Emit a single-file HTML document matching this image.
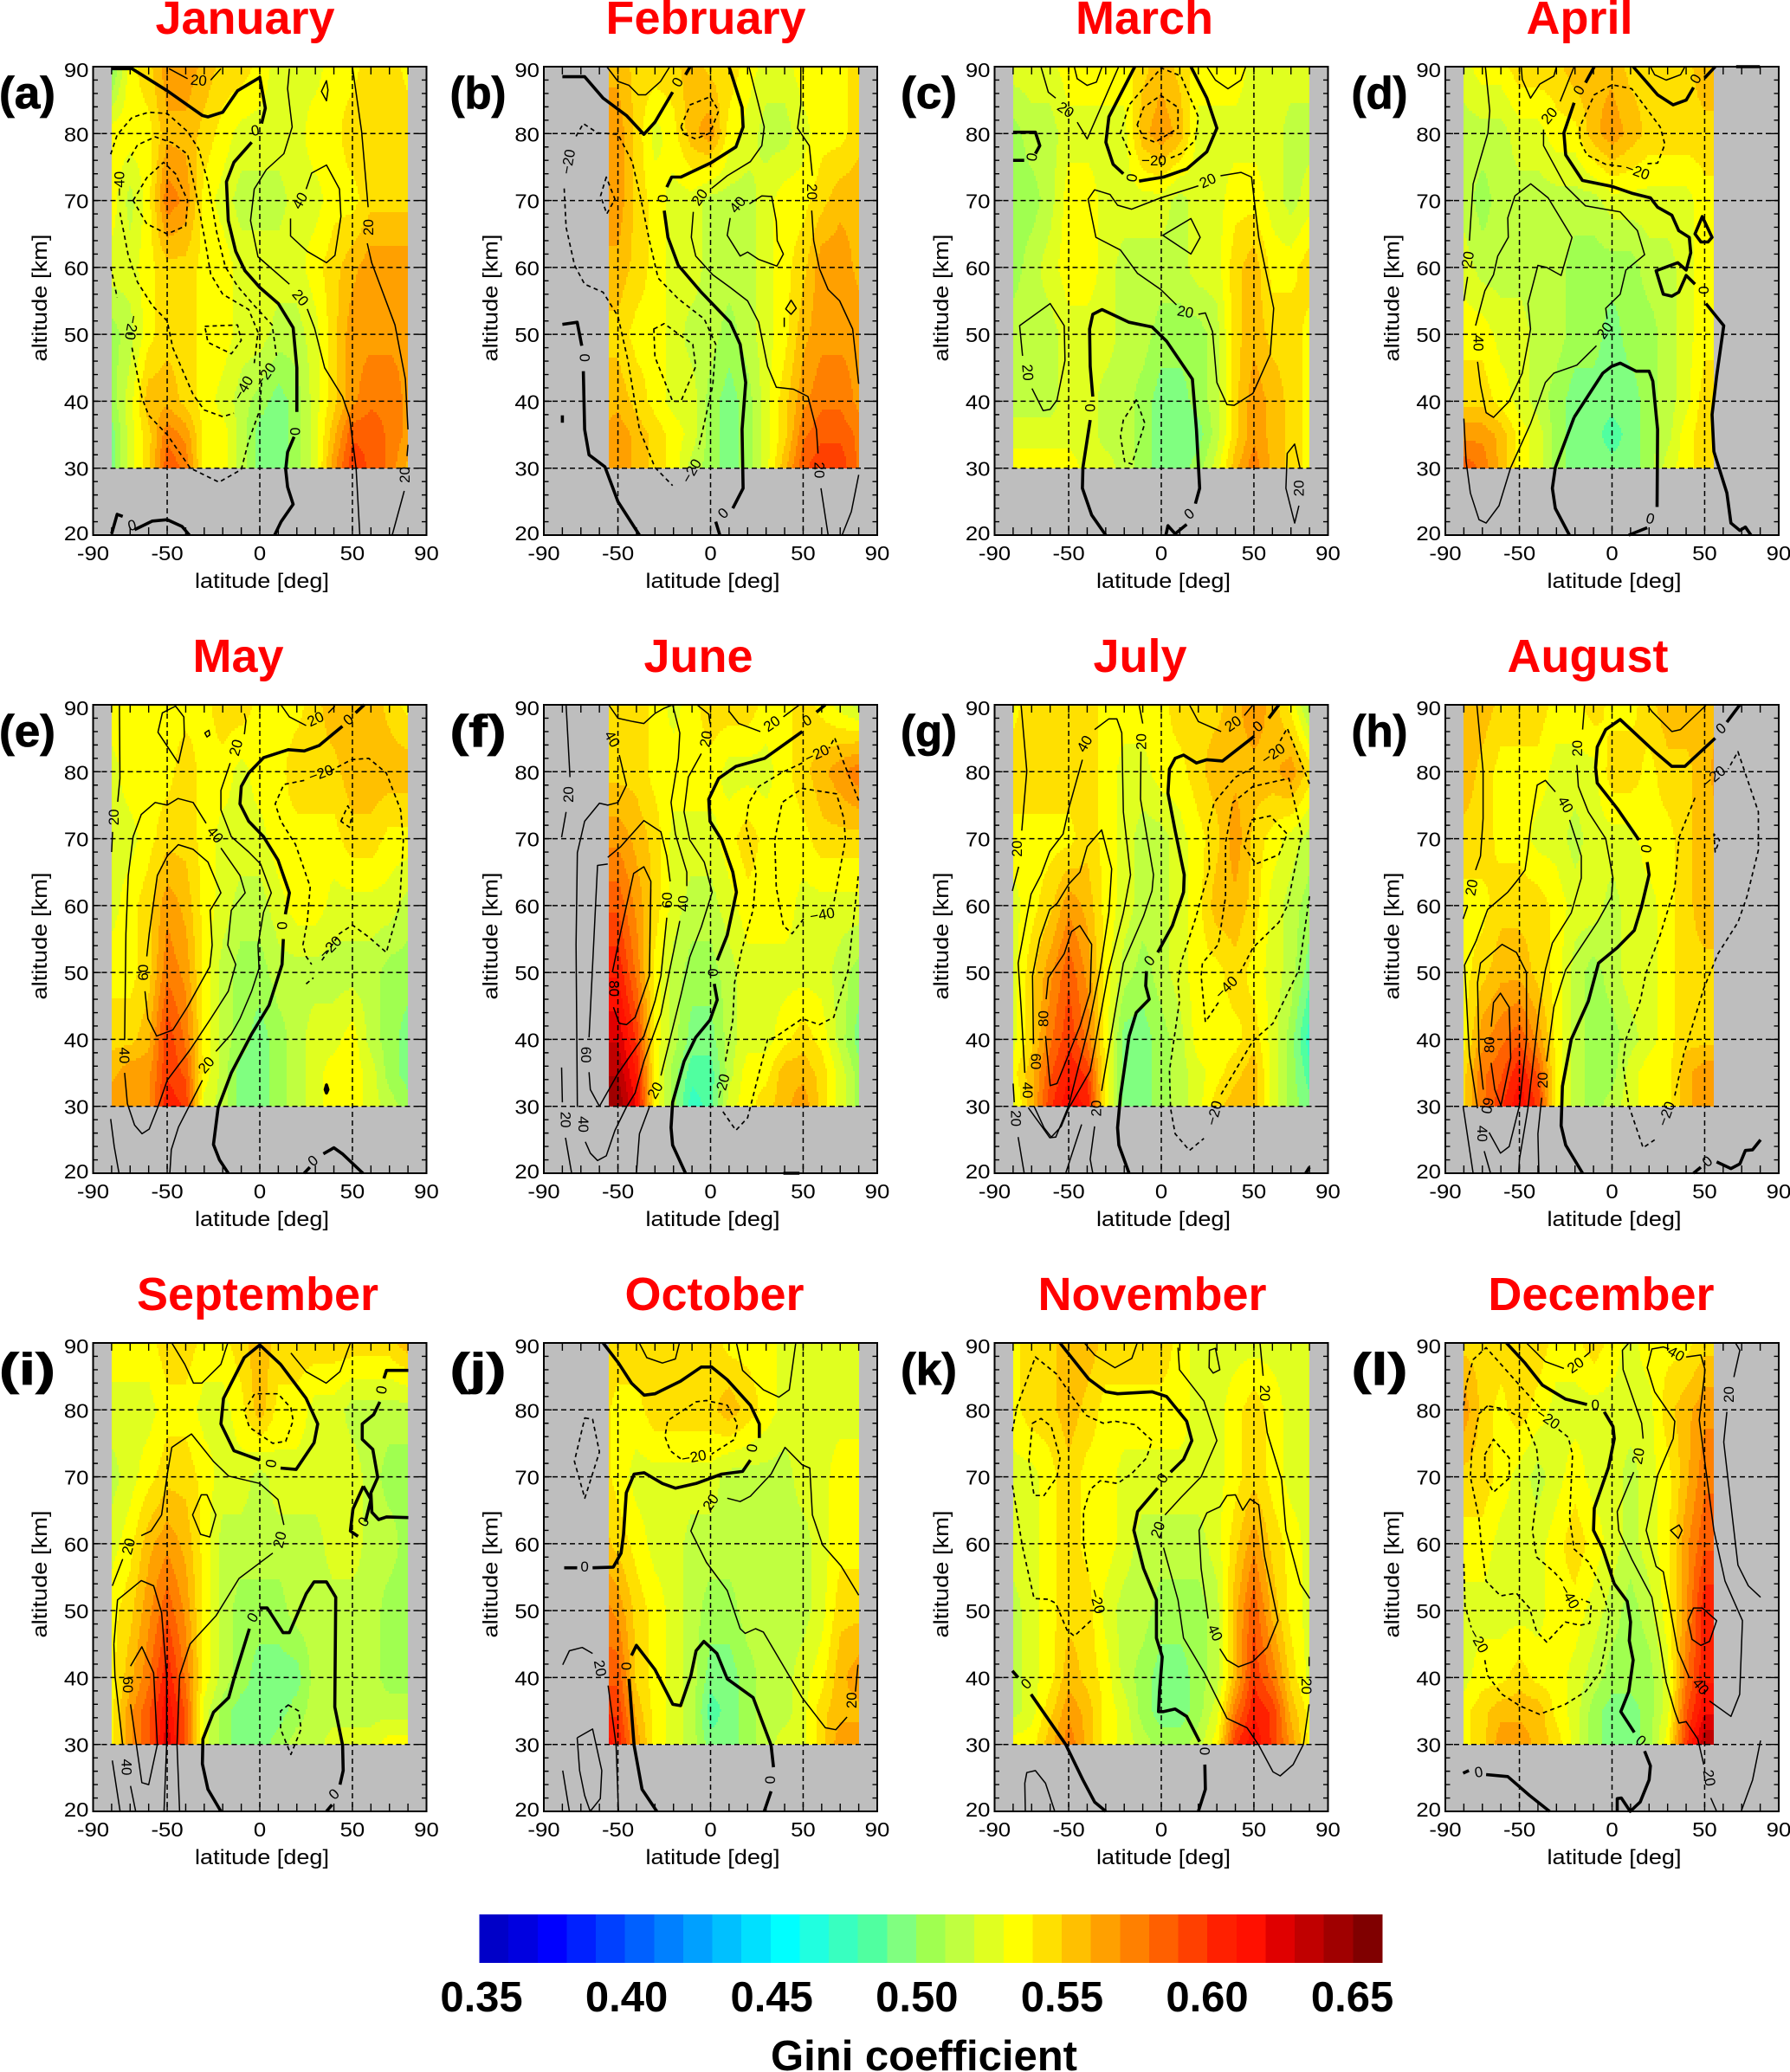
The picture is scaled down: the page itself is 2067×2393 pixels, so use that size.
<!DOCTYPE html>
<html lang="en">
<head>
<meta charset="utf-8">
<title>Monthly Gini coefficient by latitude and altitude</title>
<style>
html,body{margin:0;padding:0;background:#fff;}
#figure{display:block;font-family:"Liberation Sans",Arial,sans-serif;}
</style>
</head>
<body>
<svg id="figure" xmlns="http://www.w3.org/2000/svg" width="2067" height="2393" viewBox="0 0 2067 2393"></svg>
<script>
const monthNames=['January','February','March','April','May','June','July','August','September','October','November','December'];
const panelLetters=['(a)','(b)','(c)','(d)','(e)','(f)','(g)','(h)','(i)','(j)','(k)','(l)'];
const latGrid=[-80,-70,-60,-50,-40,-30,-20,-10,0,10,20,30,40,50,60,70,80];
const altGrid=[30,35,40,50,60,70,80,90];
const dataLatMin=[-80,-55,-80,-80,-80,-55,-80,-80,-80,-55,-80,-80];
const dataLatMax=[80,80,80,55,80,80,80,55,80,80,80,55];
const xTickLabels=[-90,-50,0,50,90];
const yTickLabels=[20,30,40,50,60,70,80,90];
const xGridLats=[-50,0,50];
const yGridAlts=[30,40,50,60,70,80];
const colorbarTicks=['0.35','0.40','0.45','0.50','0.55','0.60','0.65'];
const levelColors=['#0000c8','#0000e0','#0000ff','#0020ff','#0040ff','#0060ff','#0080ff','#00a0ff','#00c0ff','#00e0ff','#00ffff','#20ffe0','#38ffc0','#50ffa0','#80ff80','#a0ff50','#c0ff40','#e0ff20','#ffff00','#ffe000','#ffc000','#ffa000','#ff8000','#ff6000','#ff4000','#ff2000','#ff1000','#e00000','#c00000','#a00000','#800000'];

const giniJan=[
[.49,.52,.54,.58,.57,.53,.53,.51,.49,.49,.50,.52,.56,.59,.58,.57,.55],
[.49,.52,.54,.57,.56,.53,.53,.51,.49,.49,.50,.52,.55,.58,.58,.57,.56],
[.50,.52,.55,.55,.54,.53,.52,.51,.50,.49,.50,.52,.54,.56,.57,.57,.56],
[.50,.51,.53,.54,.54,.53,.53,.52,.52,.51,.51,.52,.54,.56,.56,.56,.56],
[.52,.52,.53,.54,.54,.53,.53,.52,.52,.52,.52,.53,.54,.55,.56,.56,.56],
[.53,.51,.53,.57,.56,.53,.52,.51,.51,.51,.52,.52,.53,.53,.54,.54,.54],
[.53,.53,.53,.55,.55,.54,.53,.52,.52,.52,.52,.53,.53,.54,.54,.54,.54],
[.49,.53,.54,.56,.56,.55,.54,.54,.53,.52,.52,.52,.53,.53,.54,.54,.53]];
const giniFeb=[
[null,null,.56,.56,.55,.54,.53,.51,.50,.49,.50,.52,.55,.58,.59,.59,.57],
[null,null,.55,.56,.55,.54,.53,.52,.50,.49,.50,.52,.54,.57,.58,.58,.57],
[null,null,.55,.55,.54,.53,.52,.52,.50,.49,.50,.52,.54,.56,.57,.57,.56],
[null,null,.54,.54,.53,.53,.52,.51,.51,.50,.51,.52,.53,.55,.56,.56,.56],
[null,null,.55,.55,.54,.53,.52,.52,.51,.51,.51,.52,.53,.54,.56,.56,.55],
[null,null,.56,.56,.54,.53,.52,.52,.51,.51,.51,.52,.53,.53,.54,.55,.55],
[null,null,.56,.56,.54,.52,.53,.55,.56,.53,.52,.51,.51,.52,.53,.53,.54],
[null,null,.55,.55,.54,.54,.54,.55,.54,.54,.53,.52,.52,.53,.53,.53,.54]];
const giniMar=[
[.53,.53,.53,.53,.52,.52,.51,.50,.49,.49,.50,.52,.55,.57,.55,.54,.53],
[.52,.52,.52,.52,.52,.51,.51,.50,.49,.49,.49,.51,.54,.56,.55,.54,.53],
[.51,.51,.51,.52,.52,.51,.51,.50,.49,.49,.50,.51,.54,.56,.55,.54,.53],
[.51,.51,.51,.52,.52,.52,.51,.51,.50,.50,.50,.51,.54,.55,.54,.54,.53],
[.50,.51,.52,.53,.53,.52,.51,.51,.51,.51,.52,.52,.54,.55,.53,.53,.54],
[.50,.50,.51,.53,.53,.52,.52,.52,.52,.51,.52,.52,.53,.53,.52,.51,.52],
[.50,.51,.51,.52,.52,.52,.52,.55,.56,.55,.52,.52,.52,.52,.52,.51,.51],
[.52,.52,.52,.53,.53,.53,.53,.54,.55,.54,.53,.53,.53,.52,.52,.52,.52]];
const giniApr=[
[.58,.57,.55,.53,.52,.50,.49,.49,.49,.49,.50,.52,.53,.54,.54,null,null],
[.56,.56,.55,.53,.52,.50,.49,.49,.48,.49,.50,.51,.53,.54,.54,null,null],
[.54,.54,.53,.52,.51,.50,.49,.49,.49,.49,.50,.51,.52,.54,.54,null,null],
[.53,.53,.52,.52,.51,.51,.50,.50,.49,.50,.50,.51,.52,.53,.53,null,null],
[.52,.51,.51,.51,.51,.51,.50,.50,.50,.50,.51,.51,.52,.53,.53,null,null],
[.51,.50,.51,.51,.51,.51,.51,.51,.52,.52,.52,.52,.52,.53,.53,null,null],
[.51,.51,.51,.52,.52,.53,.53,.55,.56,.55,.54,.54,.54,.54,.54,null,null],
[.52,.53,.53,.54,.54,.54,.55,.55,.55,.54,.54,.54,.54,.55,.55,null,null]];
const giniMay=[
[.56,.56,.56,.60,.59,.52,.51,.49,.49,.50,.51,.52,.53,.53,.52,.51,.50],
[.55,.56,.56,.59,.58,.53,.51,.49,.49,.50,.51,.52,.53,.53,.52,.50,.49],
[.54,.54,.55,.59,.57,.53,.51,.50,.49,.50,.51,.52,.52,.53,.51,.50,.49],
[.53,.53,.54,.57,.56,.53,.51,.50,.50,.51,.51,.51,.51,.51,.51,.50,.50],
[.52,.53,.54,.56,.55,.53,.52,.51,.51,.52,.53,.53,.52,.52,.52,.52,.51],
[.52,.52,.53,.54,.54,.53,.52,.52,.52,.53,.53,.53,.53,.54,.54,.53,.53],
[.52,.53,.53,.53,.54,.53,.53,.52,.53,.53,.54,.54,.54,.55,.55,.55,.55],
[.53,.53,.53,.53,.53,.53,.54,.54,.53,.53,.53,.54,.55,.55,.55,.54,.53]];
const giniJun=[
[null,null,.64,.64,.61,.53,.50,.47,.48,.52,.53,.54,.55,.56,.54,.52,.50],
[null,null,.63,.63,.60,.53,.50,.48,.48,.51,.53,.53,.55,.55,.54,.52,.50],
[null,null,.62,.62,.59,.53,.51,.49,.49,.51,.52,.52,.53,.54,.53,.51,.49],
[null,null,.60,.60,.57,.53,.51,.50,.50,.51,.52,.52,.52,.52,.52,.51,.50],
[null,null,.58,.58,.56,.54,.52,.51,.51,.52,.53,.53,.53,.52,.52,.52,.52],
[null,null,.56,.56,.55,.54,.52,.52,.52,.53,.54,.53,.53,.53,.54,.54,.54],
[null,null,.54,.54,.54,.53,.53,.53,.53,.52,.52,.52,.53,.54,.55,.56,.57],
[null,null,.54,.54,.54,.53,.52,.53,.54,.54,.54,.53,.53,.54,.53,.52,.51]];
const giniJul=[
[.52,.55,.59,.61,.60,.53,.49,.49,.50,.51,.52,.54,.55,.55,.52,.50,.49],
[.53,.55,.58,.60,.59,.53,.49,.49,.50,.51,.52,.53,.54,.55,.52,.50,.48],
[.52,.54,.57,.59,.57,.53,.49,.49,.50,.51,.53,.53,.53,.54,.52,.50,.47],
[.52,.54,.56,.58,.56,.53,.51,.50,.51,.52,.53,.53,.54,.53,.52,.51,.49],
[.52,.53,.54,.56,.55,.53,.52,.51,.51,.52,.53,.55,.55,.54,.52,.51,.50],
[.53,.53,.53,.53,.54,.53,.52,.51,.51,.52,.53,.54,.56,.54,.53,.52,.51],
[.54,.54,.54,.54,.54,.53,.52,.52,.53,.53,.54,.55,.55,.55,.55,.56,.54],
[.53,.54,.54,.54,.54,.53,.53,.53,.53,.54,.54,.54,.55,.56,.55,.53,.50]];
const giniAug=[
[.54,.57,.59,.61,.59,.53,.51,.50,.51,.52,.53,.53,.55,.56,.56,null,null],
[.54,.57,.58,.60,.58,.53,.51,.50,.50,.52,.53,.53,.55,.56,.56,null,null],
[.53,.56,.57,.58,.56,.53,.51,.50,.50,.51,.52,.53,.54,.54,.54,null,null],
[.53,.54,.55,.55,.54,.53,.51,.50,.51,.52,.52,.53,.54,.54,.54,null,null],
[.53,.53,.54,.54,.54,.53,.52,.52,.51,.52,.52,.53,.54,.55,.55,null,null],
[.54,.54,.53,.53,.52,.52,.51,.52,.52,.52,.53,.53,.54,.55,.55,null,null],
[.55,.54,.53,.53,.53,.52,.52,.52,.54,.54,.53,.54,.54,.55,.56,null,null],
[.55,.55,.54,.54,.54,.53,.53,.54,.53,.53,.54,.55,.55,.55,.55,null,null]];
const giniSep=[
[.53,.56,.58,.62,.58,.52,.50,.49,.49,.50,.51,.51,.52,.52,.52,.53,.53],
[.53,.56,.58,.61,.58,.52,.50,.49,.49,.49,.50,.51,.51,.51,.51,.51,.51],
[.53,.55,.57,.60,.57,.53,.51,.50,.49,.49,.49,.51,.51,.51,.51,.50,.50],
[.53,.54,.56,.58,.56,.53,.51,.50,.50,.50,.51,.51,.51,.51,.51,.50,.50],
[.52,.53,.55,.56,.55,.53,.51,.51,.51,.51,.51,.51,.52,.52,.51,.51,.50],
[.51,.52,.53,.54,.54,.53,.52,.52,.51,.52,.52,.52,.52,.52,.51,.50,.50],
[.52,.52,.52,.53,.53,.52,.52,.53,.55,.53,.53,.52,.52,.51,.51,.51,.51],
[.53,.53,.53,.54,.54,.53,.53,.54,.55,.54,.54,.54,.54,.54,.54,.54,.55]];
const giniOct=[
[null,null,.61,.60,.56,.53,.52,.51,.49,.49,.50,.51,.52,.52,.54,.56,.56],
[null,null,.59,.59,.55,.53,.52,.51,.48,.49,.50,.51,.51,.52,.54,.55,.55],
[null,null,.58,.58,.54,.53,.52,.51,.49,.49,.50,.51,.51,.52,.53,.55,.56],
[null,null,.57,.56,.54,.53,.52,.51,.50,.50,.51,.51,.51,.51,.52,.54,.54],
[null,null,.55,.54,.53,.52,.52,.51,.51,.51,.51,.51,.51,.51,.52,.53,.53],
[null,null,.54,.53,.52,.52,.52,.52,.52,.51,.51,.51,.51,.52,.52,.53,.53],
[null,null,.54,.53,.53,.54,.54,.54,.54,.55,.54,.53,.52,.52,.52,.52,.52],
[null,null,.54,.54,.54,.54,.54,.54,.54,.53,.53,.53,.52,.52,.52,.52,.52]];
const giniNov=[
[.53,.53,.55,.57,.55,.53,.52,.51,.50,.50,.51,.53,.59,.61,.59,.56,.53],
[.51,.52,.54,.56,.55,.53,.52,.50,.49,.49,.50,.52,.57,.60,.59,.55,.53],
[.51,.52,.53,.55,.54,.53,.51,.50,.49,.49,.50,.51,.55,.59,.57,.54,.52],
[.51,.52,.53,.54,.54,.52,.51,.51,.50,.50,.50,.51,.55,.58,.55,.53,.52],
[.52,.52,.53,.54,.53,.53,.52,.51,.51,.51,.51,.52,.54,.56,.54,.53,.52],
[.52,.52,.53,.54,.53,.53,.52,.52,.52,.52,.52,.52,.53,.54,.53,.52,.52],
[.53,.54,.54,.55,.54,.53,.53,.53,.53,.53,.52,.52,.53,.54,.53,.52,.52],
[.53,.54,.54,.55,.55,.54,.54,.54,.54,.53,.52,.52,.52,.52,.52,.52,.52]];
const giniDec=[
[.53,.54,.56,.56,.55,.54,.52,.50,.49,.49,.50,.53,.59,.63,.63,null,null],
[.53,.54,.55,.55,.55,.53,.52,.50,.49,.49,.50,.52,.58,.61,.61,null,null],
[.52,.53,.53,.54,.53,.53,.52,.51,.50,.50,.50,.52,.57,.60,.60,null,null],
[.52,.52,.52,.52,.52,.53,.53,.52,.51,.50,.51,.53,.56,.60,.60,null,null],
[.53,.53,.52,.52,.52,.53,.54,.53,.52,.51,.52,.53,.56,.58,.58,null,null],
[.54,.54,.53,.52,.51,.52,.53,.52,.52,.51,.52,.53,.55,.57,.57,null,null],
[.56,.54,.53,.54,.53,.52,.52,.52,.52,.52,.52,.54,.55,.56,.56,null,null],
[.54,.54,.54,.54,.54,.53,.53,.54,.53,.52,.53,.53,.53,.54,.54,null,null]];
const giniByMonth=[giniJan,giniFeb,giniMar,giniApr,giniMay,giniJun,giniJul,giniAug,giniSep,giniOct,giniNov,giniDec];

/* contour format: [level, closed, lat,alt, lat,alt, ...] */
const contoursJan=[
[0,0,-80,89.7,-69,89.7,-50,86.4,-31,82.7,-28,82.5,-20,83.2,-12,86.4,0,88.4,3,83.8,1,81.5],
[0,0,-4.4,78.7,-14,75.7,-18,72.8,-17,67,-13,62.4,-8,59.5,0,57,10,54.6,18,51,20,45,20,38.4],
[0,0,18.5,34.7,15,32.4,14,29.8,15,27.2,18,24.6,11.5,22,8,20],
[0,0,-80,20.2,-77,23.1,-74,22.8],
[0,0,-67.6,20.8,-58,22.1,-50,22.3,-42,21.3,-38,20],
[20,0,-49,89.7,-39,88.2],
[20,0,-26.5,88,-21,89.7],
[20,0,16,89.7,15,86.7,17.5,81,13,77,3.5,74.6,-3,71.7,-5,67,-1,61.6,16,57.5],
[20,0,25.6,53.8,29.6,50.9,35,45,44.6,40.7,48.5,37.6,52,30,54,20],
[20,0,50,90,55,80.3,58.5,69],
[20,0,58,63.6,60.4,60.7,73,51.4,78.6,43.3,80,35.8],
[20,0,80,33.5,79.5,31.8],
[20,0,78,26.6,71.5,20],
[20,1,36,87.9,33.3,86.3,36,84.9,36.8,86.5],
[40,0,25,71.7,28,74.1,36,75.3,43,71.7,43.8,67.6,40.6,61.8,36,60.7,25.6,62.4,16.6,64.7,16.6,67.3],
[-20,0,-80.5,76.9,-77,79.8,-69,82.4,-60,83.2,-50,83,-39,80.3,-33,77.7,-28,72.8,-23.3,65.3,-18.6,60.1,-12,57.2,-3,54.3,6.7,51.4,9,46.8],
[-20,0,-80.5,60.1,-77,55.5],
[-20,0,-69,48,-63.6,40.5,-60,37.9,-50,35,-37.5,30,-22,27.9,-10,29.8,-6,34.1,0,38.7,1,43.1],
[-40,0,-71.5,75.7,-66,78.3,-56.5,79.5,-47,78.6,-39,76.9,-34.4,71.1,-29.7,64.2,-26.5,59,-20,56,-6,53.7,-1,50.3,-3,45.7],
[-40,0,-75.5,68.2,-71,61.8,-66,57.8,-58,54.3,-50,52,-47,48,-36,41,-30,38.7,-20,37.7,-14,38.2],
[-60,1,-68.4,70,-61,73.4,-52,75.7,-45.5,74,-39,70,-40,66.2,-50,65,-61,66.5],
[-60,1,-29.7,51.2,-12,51.4,-10,49.1,-15.4,47.1,-28,48.8]];
const labelsJan=[[-76,72.5,'−40',-90],[-69,51,'−20',100],[-33,88,'20',5],[-2.5,80.5,'0',-10],[21.5,70,'40',-60],[58.5,66,'20',-90],[22,55.5,'20',50],[-9,42,'−40',-60],[3,44,'−20',-55],[19,35.5,'0',-90],[78,29,'20',-90],[-69,21.5,'0',-15]];

const contoursFeb=[
[0,0,-80,88.5,-68,88.5,-58,85.3,-45.4,82.7,-36,79.9,-30,81.7,-20.5,86.2],
[0,0,-13.5,88.8,-11,90],
[0,0,10,90,17,83.9,17.6,81,13.7,78,0,75.6,-16,73.5,-21,73.5,-23.6,72],
[0,0,-25,68.5,-23,64.5,-17.4,60.3,-5,56.3,10.6,51.8,16,48.5,19,42.8,17,35.8,17.6,27,12,24],
[0,0,2.8,22,5,20],
[0,0,-80,51.5,-72,51.8,-69.5,48.3],
[0,0,-68.7,44.5,-68,35.8,-65.6,32,-57,30.2,-50,25,-38.4,20],
[0,0,-80,37.9,-80,36.8],
[20,0,-56,90,-50,87.8,-44,87.2,-39,85.8,-35,85.8,-27,87.8,-22,90],
[20,0,20.7,90,24.6,85.8,29,81,27.7,78.2,21.5,75.8,9,73.7,0.5,71.8],
[20,0,-9.3,68.3,-10.4,64.5,-8,61.7,1.2,58.9,10.6,57,20,55,26,51.8,30.8,45.2,35.5,42.1,44.8,41.8,52.6,40.7,57.2,35.8,58,32.2],
[20,0,48.7,90,48.7,84.3,47,80.8,53.3,78.2,55,73.7],
[20,0,54.6,68.5,55.7,64,58.8,59.8,63.5,56.7,69.7,55,76.7,50.8,80,42.6],
[20,0,59.6,27,63.5,20],
[20,0,80,29,76,23.5,71,20],
[40,0,21,69.5,27.7,70.7,33,70.6,35.5,66.9,36,64,39.3,62,35.8,60.2,26,61.2,20,62.3,16,61.7,9,64.8,10.6,67.4],
[40,1,43.5,55.1,40.6,53.8,43.5,53,46.3,53.9],
[40,0,39.8,52.5,39.8,51.1],
[-20,0,-72.6,79.6,-68.7,81.5,-61,80.1,-50,79.9,-42.3,75.8,-37.6,70.2,-33,64,-28.3,58.4,-17.4,55.3,-3.4,52.3,2.8,48.5,1.2,42.4,-6.5,32.9],
[-20,0,-79,71.8,-78,66,-73.4,60.3,-68,57.5,-58,56.3,-50,52.7,-44.6,46.1,-38.4,35.8,-30,30.1,-20.5,27.4],
[-40,1,-30.6,50.8,-25,51.6,-9.6,48.5,-8,45.2,-16,40,-20.5,40,-30,46.6],
[-40,1,-16,81,-11,84.3,-0.3,85.5,4.4,83.4,-0.3,80.1,-8,79.2,-14,79.9],
[-40,1,-56.3,73.5,-59.4,70.7,-56,68,-51.6,70.2]];
const labelsFeb=[[-77,75.8,'−20',-80],[-18,87.7,'0',-60],[-26,70.3,'0',-90],[-6,70.5,'20',-55],[14.5,69.4,'40',-50],[55,71.3,'20',90],[-68,46.5,'0',-90],[-10.4,29.6,'−20',-60],[59,29.7,'20',90],[6.7,23.3,'0',-45]];

const contoursMar=[
[0,0,-80,80.2,-68,80.2,-65.6,78.2,-68,77],
[0,0,-74,76,-80,76],
[0,0,-14.3,90,-28.3,82.5,-29.9,78.7,-26,75.4,-20.5,74],
[0,0,-12,72.9,1.2,73.5,13.7,74.7,24.6,77.3,30,80.8,24.6,85.3,16,90],
[0,0,-37,40.7,-38.4,45.2,-38.7,50.8,-37,53,-32,53.7,-17.4,51.8,-5,51.1,2.8,49,16.8,43.3,19,35.8,20.7,27,18.4,24.7],
[0,0,-38.4,37.2,-42.3,30.1,-42.6,27,-37.6,23,-30,20],
[0,0,13.7,21.6,7.5,20.2,3.6,21.4,2.5,20],
[20,0,-65,90,-61,86.2,-57,85.3],
[20,0,-45.4,81.7,-40,79.2,-23,90],
[20,0,-47,90,-45.4,88.2,-40,87.2,-35,87.7,-32,90],
[20,0,24.6,90,29.2,88,36,86.7,43,88,45.6,90],
[20,0,20,72.2,-0.3,70.4,-16,68.7,-23.6,69.3,-27.7,70.9,-36,71.6,-39.5,70.2,-35.3,64.5,-22,62.6,-12.8,59.1,-0.3,56.7,8.2,54.4],
[20,0,20,53,23.8,53.2,27.7,50.4,30,42.8,35.5,39.5,39.3,39.4,49.5,41.2,58.8,47,60.7,53.9,52.6,64.5,48.7,73.5,43,74.2,32,73.7],
[20,0,75,29.9,72,33.6,68,32.2,67.3,27,72,21.8,74.3,24.4],
[20,0,-74.9,46.8,-76.5,51.3,-60,54.6,-52.4,51.3,-52,46.1,-56.3,40.2,-60,38.8,-63.8,38.6,-69.8,41.9],
[20,1,0.8,64.8,16,67.3,21,64.5,16,62],
[-20,0,-16.6,76.8,-22,80.1,-17.4,84.3,0,89.8,10.6,88.6,20,82.5,18.4,79,10.6,77,3.5,76.2],
[-40,1,-13,81.3,-9.6,83.9,-0.3,85.7,9,83.9,9,80.8,-3.4,78.7,-9.6,79.4],
[-20,1,-13.5,40.2,-20.5,37.2,-22,34.8,-19.8,31,-15.9,30.6,-8.9,36.7]];
const labelsMar=[[-51.6,83.6,'20',35],[-70,76.5,'0',-80],[-4,76,'−20',0],[-16,73.4,'0',-80],[25,73,'20',-25],[13,53.4,'20',10],[-72,44.3,'20',85],[-38.4,39,'0',90],[74,27,'20',-90],[15,23.2,'0',-40]];

const contoursApr=[
[0,0,-9.6,90,-14.3,87.6],
[0,0,-20.5,84.6,-26,80.1,-25,76.8,-16,73,0,72.1,10.6,71.1,20.7,70.4,24.6,69,32.3,67.8,36,65.5,41.7,64.5,42.5,62.2,40,59.6,35.5,60.7,23.8,59.5,27.7,56,32.3,55.7,36,56.3,40,58.8,44.8,57.5],
[0,0,50.7,54.6,60.3,51.3,56.5,43.8,54,38,55,32.5,62,26.3,64.2,21.8,69,20.7,72,21.2,75,20],
[0,1,48.7,67.6,54,64.5,51.8,63.8,48,63.8,44.8,65],
[0,0,11.4,90,24.6,85.8,33,84.3,40,85,44,86.9],
[0,0,50,88.3,55.7,90],
[0,0,67,90,79.8,90],
[0,0,-20.5,37.6,-30.6,30.1,-32.2,27,-30.6,24,-23,20],
[0,0,-20.5,37.6,-5,44.2,-0.3,45.2,4.4,45.7,13,44.5,20,44.5,22,43,24.6,35.8,24.3,24.2],
[0,0,9,20,19,21.1],
[20,0,-68.4,90,-66,83.4,-67,80.1,-75,72.5,-77,64],
[20,0,-78,58.6,-80,55],
[20,0,-49,90,-48.5,88.1,-44,85.3,-39,87.4,-31.4,88.6,-30,90],
[20,0,-20.5,90,-28,84.8],
[20,0,-37,80.6,-37,78.2,-25,72.1,-14.3,69.2,4.4,68.3,13.7,65.5,17.6,61.9,7.5,59.6,4.4,56,-3.4,53.9,-2.6,52.3],
[20,0,-8.4,48.3,-19,45.4,-31.4,44.2,-36,42.8,-43.9,36.7,-54.7,30.1,-61,24.4,-68,21.8,-71.8,22.3,-76.5,26.3,-78.8,31,-80,37.4],
[20,0,20.7,90,23,88.8,29.2,88,37,88.8,39.3,90],
[40,0,-72.6,45.9,-71,42.4,-68,38.3,-64,37.6,-55.5,40,-48.5,44.2,-44,50.8,-45.4,54.6,-40,60.3,-35.3,60,-27.5,58.8,-21.6,64.5,-34.5,70.4,-43.9,72.5,-52.4,70.7,-56.3,67.4,-56,64.5,-61.7,61.7,-64,58.9,-68.7,56.5,-73.7,51.3],
[-20,0,5.1,75.1,-3.4,75.4,-13.5,76.8,-17.4,78.9,-17.4,81,-9.6,85.8,0,87.3,10.6,86.7,26,81,28.5,78.4,24.6,75.6,19,75.5]];
const labelsApr=[[-18,86.5,'0',-60],[-34,82.7,'20',-50],[13.7,74.4,'−20',20],[-78,61.2,'20',-80],[-72,48.7,'40',90],[-4,50.6,'20',-55],[45,88.2,'0',-60],[49.5,56.6,'0',90],[20.7,22.5,'0',15]];

const contoursMay=[
[0,0,56.4,90,51.7,88.8],
[0,0,44.6,86.8,32,83.9,24,83.1,15.4,83.3,2,82.1,-6,79.8,-10,77.8,-10.7,75.2,-6,72.6,2,70.3,9.8,66.8,16,61.9,13.8,58.7],
[0,0,12.7,55,12,51.2,5,45.1,-4.4,40.8,-15.4,35,-22.5,29.8,-25,24.3,-21.8,22,-17,20],
[0,0,24,20,27,20.9],
[0,0,34.3,22.9,40,23.8,44.6,22.9,55.7,20],
[0,1,36,33.2,35.3,32.5,36,32,36.8,32.5],
[20,0,-75.8,90,-75.5,79,-76.7,75.5],
[20,0,-80,68,-79.5,71],
[20,0,-80.5,28.1,-78.6,24,-76,20],
[20,0,11.4,90,16,88.2,25,86.9],
[20,0,37,88.8,40.6,89.8],
[20,0,-8.3,88.7,-7.5,87.6,-8.3,85.6],
[20,0,-16,81.3,-21,77.2,-21,74.3,-15.4,70.3,-6,68,0.4,66.2,6.2,61.9,2,59,-1,54.1,-0.4,50.6,-4.4,47.2,-10.7,43.1,-15.4,40.8,-23.7,38.2],
[20,0,-31,33.9,-43.9,26.9,-47.8,23.5,-48.6,20],
[20,1,-29.7,85.8,-27.5,86.2,-27,85.5,-28.5,85.2],
[40,0,-73,39.9,-72.3,55.8,-71,64.5,-68.4,70.3,-64,73.6,-56.5,75.4,-50,75,-44.2,76,-36,75.4,-29,72.3],
[40,0,-21,68.6,-10.7,64.5,-7.9,61.9,-15.4,59.3,-17.3,54.1,-13,51.2,-17,47.2,-26.5,43.1,-37.5,38.5,-50,33.9,-55,29.9,-59.7,26.6,-63.6,25.9,-67.6,27.2,-71.5,30.4,-73,35],
[40,1,-52.6,88.8,-45.5,89.8,-41,88.2,-40.7,85.3,-44,81.3,-55,85.9],
[60,0,-62,47.2,-60.4,43.1,-55.7,40.5,-47,41.4,-39,44.9,-27,50.9,-25.7,54.1,-26.8,59.3,-21,61.9,-28,66.5,-36,68.4,-44,69.1,-50,67.4,-55.3,64.5,-59.7,55.8,-61,52.4],
[-20,0,24,78.7,13,78.1,8.3,75.2,11.4,72.6,19.3,69.1,27.2,62.8,25.6,57.6,23.3,54.1,25,52.4,28,51.2],
[-20,0,33.5,51.8,43,55.8,50,57.1,58.8,55.3,68.3,53,75.4,59.9,77.5,69.7,76,74.3,68.3,79.8,58.8,82,49.4,81.8,38,80.1],
[-20,1,43.8,72.6,47.5,74.9,50,73.7,48.4,71.7],
[-20,0,25,48.3,29,49.2]];
const labelsMay=[[-79,73.2,'20',-90],[-73,37.6,'40',90],[-63,50,'60',-90],[-13,83.6,'20',-75],[-24,70.6,'40',50],[-29,36.2,'20',-50],[12,57,'0',-90],[30,87.9,'20',-25],[47.7,87.8,'0',-40],[33,79.8,'−20',-20],[38,53.8,'−20',-45],[28.6,21.9,'0',-40]];

const contoursJun=[
[0,0,62,90,57.2,88.9],
[0,0,49.5,86,29.2,82,13.7,80.8,4.4,79,-1,75.9,-0.3,72.6,6,69.8,12,65,14,62,9,55.6,3.6,51.8],
[0,0,2,48.3,3.6,45.9,-0.3,42.9,-8,40.3,-14.3,36.7,-20.5,30.6,-21.3,26.8,-20.5,24.2,-13.5,20],
[0,0,39.3,20,48,20],
[20,0,-78,90,-75.9,79.2],
[20,0,-78,74,-80.4,70.2],
[20,0,-80.4,35.8,-80,30.6],
[20,0,-78.3,25.3,-75,20],
[20,0,-7.3,90,-1,88.6,-0.3,87.2],
[20,0,-5,82.7,-12,79.2,-14.3,74,-11.2,69.8,-3.4,66.5,0.9,62,-5,56.8,-11.2,52.3,-15.9,46.7,-26.8,34.6],
[20,0,-33,29.9,-38.4,25.9,-40,20],
[20,0,9.8,89.1,15.2,87.2,26.9,86],
[20,0,39.3,88.2,48,90],
[40,0,-49.3,82.5,-45.4,78,-50,75.4,-55.5,75,-60,75.3,-68,72.6,-71.9,67.9,-72.6,54.2,-71.9,29.9],
[40,0,-20.5,90,-16.6,85.8,-17.4,82,-21.3,75.4,-19,70.7,-12.8,65,-12.8,62.9],
[40,0,-16.6,57.7,-22,50.4,-26.8,43.8,-36,36.7,-40.7,32,-45.4,29.9,-51.6,26.4,-56.3,22.6,-61,21.9,-64.9,23,-67.6,24.7],
[40,0,-55,90,-50,88,-42,87.5,-36,87.2,-30,88.7,-25,89.5,-20.5,90],
[60,0,-55.5,67.2,-48.5,68.8,-36,72.7,-26.8,71,-23.6,67.4,-21.8,63.6],
[60,0,-23.6,58.2,-26.8,49.5,-30,45.7,-36,40.5,-50,34.9,-60,30,-64.9,32.5,-65.6,35.1],
[60,0,-65.6,40.3,-61,66,-55.5,66.2],
[80,0,-53,50,-48.5,56.1,-41.5,64.8,-36,65.8,-32.2,63.6,-33,49.5,-40.7,43.3,-45.4,42.2,-49.3,42.4,-52.4,44.8],
[-20,0,49.5,81.3,38.6,79.9,26,77.8,20.7,75.4,19,72.1,24.6,65,23,59.4,16.8,53.3,13,48.5,12,42.9,8,36.7],
[-20,0,6.7,29.2,13.7,26.4,20,28.3,30.8,40,34.7,40.3,49.5,43.1,58.8,42.2,66.5,43.3,74.3,50.4,79.8,64.6],
[-20,0,80,75.7,71,82,67,85.1,64,83.5],
[-40,0,50.2,58,44,55.8,39.3,57,35.5,62.7,34.7,69.8,38.6,75.4,49.5,77.5,68,76.7,72,73,72.8,69.8,66.5,60.3]];
const labelsJun=[[-53,84.9,'40',60],[-77,76.6,'20',-90],[-2.6,84.9,'20',-80],[33,87.2,'20',-35],[52,87.7,'0',-30],[57.4,82.7,'−20',-25],[-23.6,60.8,'60',-90],[-15,60.3,'40',-90],[60.3,58.7,'−40',-10],[1.2,50,'0',-90],[-52,47.6,'80',90],[-67.2,37.7,'60',90],[-30,32.4,'20',-60],[6,33,'−20',-75],[-78,28,'20',90],[-68.6,27.3,'40',90]];

const contoursJul=[
[0,0,63.5,90,58,88],
[0,0,50.2,85.3,33,81.6,24.6,81.8,19,81.3,12,82.5,7.5,82,4.4,80.4,3.6,76.8,7.5,71.2,12.4,64.6,12,62,6,57,-1.9,53],
[0,0,-8,50.2,-8.4,48,-6.5,46,-13.5,44,-17.4,40.5,-22,31.6,-23.6,26.8,-22.9,24.2,-17.4,20],
[0,0,78,20,80,20.9],
[20,0,-75.7,90,-72.6,80.1,-75.3,71.2],
[20,0,-77,65.8,-80.4,62.2],
[20,0,-80,33.4,-79.4,30.6],
[20,0,-77.3,25.4,-74,20],
[20,0,-12,90,-10,87.2],
[20,0,-11,83,-11.2,75.9,-4.2,64.6,-5,62.2,-9.6,58.4,-20.5,51.4,-26,42.4,-32.2,32.3],
[20,0,-36,27,-38.4,22.1,-37,20],
[20,0,15.2,90,20,87.5,32.3,86],
[20,0,44.8,88.4,49.5,90],
[20,0,-43,27.3,-51.6,20],
[40,0,-36,86.3,-28.3,87.9,-24,87.9,-21.3,85.8,-20.5,74,-16.6,64.6,-20.5,58.9,-28.3,50.4,-38.4,35.3,-50,29.7,-54,27,-59.4,25.4,-63.3,26.8,-68.7,30],
[40,0,-73.7,35,-75.7,44.8,-77.3,51.4,-70.3,61.7,-64.9,64.6,-60.2,68.1,-53,70.7,-50,74.5,-42.6,81.8],
[60,0,-69,39.3,-69.5,49.5,-65.6,55.1,-60.2,59.4,-56.3,60.3,-50,63.2,-43.9,65,-40,68.8,-32.2,71.3,-26.8,65.5,-28.3,59,-33,50.4,-39.2,41.9,-50,30.1,-57,25.4,-60.2,25.3,-64,26.8,-71.8,29.8],
[80,0,-62.2,46,-61,49.2,-52.4,52.8,-48.5,56.1,-44,57,-37.6,54.2,-38.4,47.1,-43.9,42,-56.3,33.4,-60,33.1,-62.5,40.5],
[-20,0,49.5,80.6,40,79.2,28.5,75.4,25.3,71.7,26,65.5,18.4,58,10.6,51.4,9,48.5,9.8,45.7,4.4,35.3,5,29.7,7.5,25.9,15.2,23.4,23,25.2],
[-20,0,32.3,31.8,49.5,39.8,60.3,42.4,74.3,50.4,80.2,61.7],
[-20,0,80,78.2,68,86.5,64,84.5],
[-40,0,30.8,45.5,23.8,42.6,21.5,49.5,22.2,51.4,30.8,54.2,34.7,61.3,34.7,69.3,38.6,75.4,49.5,77.8,68.9,79,75.9,70.7,68,59.9,63.5,57.5,49.5,53.7,42.5,50],
[-60,1,48.7,72.8,58.8,73.4,68,70.7,63.5,67.6,51,66.2,44.8,68.8]];
const labelsJul=[[-78,68.5,'20',-90],[-41.5,84.2,'40',-60],[-11,84.5,'20',-90],[38.6,87.2,'20',-35],[52,86.8,'0',-40],[60.3,82.7,'−20',-35],[-6.5,51.8,'0',-50],[35,47.8,'−40',-45],[-63.8,43.1,'80',-90],[-67.6,36.7,'60',90],[-72,32.4,'40',90],[-78.3,28.2,'20',90],[-35.3,29.7,'20',-90],[28.5,29,'−20',-75]];

const contoursAug=[
[0,0,69,90,62,87.4],
[0,0,55.7,85,39.3,80.8,32.3,80.8,23,83,4.4,87.8,-3.4,86.3,-8,83.7,-8.9,80.6,-8,78.3,2.8,74.5,14.5,69.8],
[0,0,19,66.5,20,64.6,16,59.9,12,56.3,2.8,53.7,-7.3,51.4,-12.8,45.7,-22,40,-26.8,33,-27.5,27.1,-25,24.2,-15.9,20],
[0,0,44,20,47.9,20.9],
[0,0,56.5,21.7,64.2,20.7,69,21.4,72,23.4,75.9,23.5,80.2,25],
[20,0,-73,90,-69.6,80.1,-69.6,73,-71,67.4,-73.7,65.3],
[20,0,-78,59.9,-80.4,58],
[20,0,-80.4,30,-75,20],
[20,0,-14.8,90,-15.9,86.3],
[20,0,-19,81,-18.2,77.8,-12.8,74,-3.4,70,0.5,64.1,-0.3,61.3,-8,57.5,-25,50.4,-31.4,44.8,-35.3,36.7],
[20,0,-38,31.3,-40,25.9,-39.5,20],
[20,0,19,90,21.5,89,32.3,86,37,86.3,51,90],
[40,0,-30.6,77,-36,78.7,-40.4,78,-43.9,72.1,-45.4,68.3,-47,65.3,-51.6,63.6,-56.3,62,-67.2,59.4,-73.4,54.7,-79.6,51.1,-77,37.7,-72.6,29.7],
[40,0,-69,23.3,-65.6,20],
[40,0,-22.9,72.8,-16.6,67.4,-16.6,64.1,-22,58.9,-32.2,54.4,-36,50.4,-39.2,44.8,-43.9,33.4,-45.4,29.7,-50,22.1,-50.4,20],
[60,0,-69.5,32.5,-71.8,38.2,-72.6,48.5,-71,51.4,-59.4,54.2,-51.6,53,-46.2,50,-46.2,40,-50,30.1,-55.5,24,-60.2,23,-66.4,26.1],
[80,0,-65.2,41.9,-64,45.5,-60.2,46.9,-55.5,44.8,-54.7,37.2,-60,30.1,-63.3,32.5,-65.3,36.5],
[-20,0,44.8,76.1,36.2,70.2,33.9,62.7,26,55.6,18.4,50,15.2,45.7,7.5,40,5.9,36.3,9,30.1,16.8,23.8,23,25],
[-20,0,33.9,31.6,38.6,37.7,49.5,47.6,57.2,52.8,68,57.5,72.8,61.3,79,68.3,79,74,68,83,62.7,80.4],
[-20,1,55.7,68,55,70.7,58,69.8]];
const labelsAug=[[-76,62.7,'20',-80],[-19,83.5,'20',-90],[-25,75.1,'40',60],[58.7,86.5,'0',-40],[55,79.3,'−20',-40],[18.4,68.5,'0',-80],[-66.4,39.2,'80',-90],[-37.6,33.9,'20',-90],[-67.2,30.1,'60',100],[-70,25.9,'40',90],[29.2,28.9,'−20',-70],[51.3,21.8,'0',-40]];

const contoursSep=[
[0,0,0,72.5,-14,73.9,-21,77.9,-19.6,81.7,-8.4,87.8,0,89.7,11.2,86.8,25,81.7,31.3,77.9,29.3,75.1,19.6,71.1,11.2,71.3],
[0,0,80.2,85.9,68.4,85.9,67,84.7],
[0,0,64.8,81.2,61.5,79.3,55.3,77.9,55.3,75.6,61,74.1,63.7,69.9,60,67.6,60.5,64.7,64.2,63.6,68.4,64,80.2,63.9],
[0,0,55.9,68.6,60,66.6,57,63.3],
[0,0,50.3,65.2,48.9,61.9,53,61.1],
[0,0,50.3,65.2,55.9,68.6],
[0,0,-5.6,47.3,-14,39.8,-16.8,37,-25,34.8,-30.7,30.8,-31,27.1,-28,23.3,-21,20],
[0,0,0,50.4,4,50.4,12.6,46.7,16,46.7,25,52.5,29.3,54.3,36,54.3,41,52,40.5,35.6,44.7,29.9,45,26.1,43.3,24],
[0,0,39,21,36,20],
[20,0,-47.5,90,-40.5,86.8,-35.8,84,-31.3,84,-21,86.8,-17.3,90],
[20,0,16.8,88.5,25,85.7,35.8,84,43.3,85.7,48.9,90],
[20,0,-79.6,53.7,-74,57.7],
[20,0,-64,61.2,-58.7,61.9,-53,64.3,-49.7,70.8,-47.5,74.4,-36.9,76.4,-25,72.3,-16.8,70.1,0,69,9.8,66.6,13,62.8],
[20,0,7,58.6,-11.2,54.8,-23.7,49.2,-37.7,45,-43.3,40.3,-44.7,30,-43.3,20],
[20,0,-79.6,27.6,-75.4,20],
[40,1,-31.6,67.3,-28.5,67.3,-23.7,64.3,-27,61,-32,61.4,-36.3,64.3],
[40,0,-78.8,45,-76.8,51.6,-64,54.5,-57.3,53.7,-53,49.7,-50.3,40.3,-50.3,29.9,-51.7,20],
[40,0,-78.8,45,-78.2,40.3,-74,29.9],
[40,0,-69.8,23.8,-67,20],
[60,0,-69.8,41.7,-63.7,44.6,-57.3,40.7,-55.3,30,-60,24,-63.7,24.3,-69.8,36],
[-20,1,-8.4,79.8,-2.8,82.4,9.8,82.4,16.8,80.3,18,78.4,14,75.3,7,75,-5.6,77.4],
[-20,1,15.4,35.9,21,35,22.3,32.3,16.8,28.5,11.2,32.3,11.2,35]];
const labelsSep=[[-71,59.6,'20',-75],[10.6,60.6,'20',-75],[6,72,'0',-80],[65.6,83,'0',-80],[55.9,63.3,'0',-60],[-4,49,'0',-60],[-71,38.9,'60',90],[-71.8,26.6,'40',90],[40,22.6,'0',-45]];

const contoursOct=[
[0,0,-58,90,-49.7,87,-42.7,84,-35.8,82.2,-30,82.4,-16.2,84.3,-5,86.4,0.6,86.4,9,84.5,21.5,80.7,26.3,77.9,26.3,75.8],
[0,0,21.5,72.5,17.3,70.8,6,70.4,-7.8,69,-19,68.3,-26,69,-35.8,70.6,-41.3,70.4,-45.5,67.6,-47,61.4,-48.3,58.6,-52.5,56.5,-63.7,56.4],
[0,0,-72,56.4,-79,56.4],
[0,0,-42.7,43.3,-40,44.8,-30,41.2,-20.4,36,-16.2,35.8,-10.6,40.3,-7.8,44,-3.6,45.4,3.4,43.6,9,39.8,23,37,32.7,29.9,34,26.6],
[0,0,-44,39.8,-41.3,29.9,-37,23.3,-29,20],
[0,0,32.7,23,29,20],
[20,0,-38.5,90,-34.4,87.8,-26,87,-19,87.6,-16.8,90],
[20,0,14,90,17.3,85.9,28.5,83,36.9,81.9,42.5,83,46,90],
[20,0,9,66.8,16,66.3,21.5,67.1,32.7,70.4,40.2,74.4,49.4,71.8,53.6,71.3,55,64.3,60.5,59.8,70.4,56.7,80,52.3],
[20,0,-6.4,65,-10.6,61.9,-2.2,57.2,9,53,16,47.3,18.7,46.6,24.3,47.3,28.5,46.8,49.4,37,62,32.5,67.6,32.2,73.7,34.1],
[20,0,79.6,41.9,78.2,37.9],
[20,0,-79.8,41.9,-76.2,44,-69.3,44.5,-63.7,43.6],
[20,0,-55.3,38.8,-51,30,-49.7,20],
[20,0,-79.8,26.1,-76.2,20],
[20,0,-72,31,-63.7,32.3,-58.7,26.1,-59.5,21.9,-65,20,-68,22.4,-70.7,26.1,-72,31],
[-20,0,-16.2,72.7,-21.8,73.9,-24.6,76,-23.2,78.4,-7.8,81.2,-2.2,81.4,9,80.7,14.5,77.9,13,75.6,0.6,73.4],
[-20,1,-67.9,78.8,-63.7,78.6,-60,73.7,-67.9,66.8,-73.5,72.3]];
const labelsOct=[[-68,56.6,'0',0],[-45.5,41.7,'0',-90],[-59.5,41.4,'20',80],[22.3,74.3,'0',-80],[-9,73,'−20',-10],[0,66.2,'20',-55],[76,36.6,'20',-90],[32,24.7,'0',-90]];

const contoursNov=[
[0,0,-54.7,90,-39.2,84.6,-29.9,82.7,-23.6,82.4,-5,82.7,2.8,82,13.7,78.3,16.5,75.4,12,72.6,5,70.7],
[0,0,-2,68.3,-12.8,64.8,-14.8,62,-9.6,56.3,-2.6,51.6,-2.6,45.9,0.5,43.1,-1,37.9,-1.5,34.9,1.2,34.9,7.5,35.3,13.7,34.2,20.7,30.4],
[0,0,23.5,27,23.8,23.3,20,20],
[0,0,-80.4,41,-77.3,40],
[0,0,-70.3,37.5,-51.6,30,-42.3,24.7,-36,21.4,-29.9,20],
[20,0,-41.5,90,-36,88.2,-25,86.3,-15.9,87.7,-13,90],
[20,0,9,89.3,9.8,86,23,81.3,30,75.4,21.5,70,10.6,66.9,2,64.3],
[20,0,1.2,59.4,9,51.6,12,45.9,23,40.8,35.5,33.9,46.3,32.5,52.6,29.9,60.3,25.9,64.2,25.3,71.2,27,76.7,30,79.8,36],
[20,0,53.3,90,55,85.1],
[20,0,55.7,79.8,57.2,76.6,65,69.5,67.3,62,75,54,80.2,51.8],
[20,0,79.8,43.1,79.8,41.7],
[20,0,-73.4,20,-73.7,24.2,-72.6,25.8,-68,26.1,-62.5,24.2,-57.5,20],
[20,1,26,88.9,29.2,89.2,31.6,86,28,85.5,25.8,86.3],
[40,0,25.3,48.8,21.5,56.3,20.4,62,24.6,64.6,31.6,65.5,35.5,67.2,40,67.3,44,65,47.9,66.7,52.6,65.8,55.7,58.2,63,48.5,57.2,44.5,49.5,42.4,41.7,41.6,35.5,42.6,31.6,44.3],
[-20,0,-80.4,76.8,-78,80.4,-68,87.9,-56.3,85.3,-50,82.7,-40.7,79.2,-31.4,78,-25,78.3,-14.3,77.8,-5,75.4,-8,72.8,-15.9,70.5,-23.6,69,-33,69.4,-38.4,68.1,-42,64.8,-42,60.1,-39.5,55.4],
[-20,0,-38,48.5,-47,46.2,-50.9,47.1,-57,51.1,-61,51.7,-68.7,51.8,-75,59.6,-80.4,68.8],
[-20,1,-69.5,78,-64.9,78.7,-59.4,77.5,-54.7,72.8,-56.3,70,-63.3,67.2,-68.7,67.2,-71.5,72.4]];
const labelsNov=[[56,82.5,'20',90],[0.5,69.8,'0',-60],[-2,62.1,'20',-70],[-34.5,51.4,'−20',75],[29.2,46.7,'40',65],[-73,39.1,'0',-45],[78.6,38.7,'20',90],[23.3,29,'0',-90]];

const contoursDec=[
[0,0,-57,90,-47,87,-37.6,83.7,-25,81.6,-13.5,80.8],
[0,0,-4.2,79.7,0.5,77.5,1.2,75.7,-1.9,71.4,-9.6,65.3,-10,62,-5,59.2,1.2,54,8.2,51.4,10,48.3,9.3,45.5,11.4,42.6,9,37.9,4.7,34.9,12,31.8],
[0,0,17.6,29,20.7,26.8,20,24.7,15.2,21.4,9.8,20,5,22,2.8,21.9,2.8,20],
[0,0,-80.4,25.7,-77.3,26.1],
[0,0,-68,25.5,-56.3,25.2,-44.6,22.4,-33.7,20],
[20,0,-46.2,90,-36,87.2,-26,86.2],
[20,0,-15,87.9,-12,88.6,-12,90],
[20,0,9,90,5.6,88.9,6,86,16,78,16.8,75.7],
[20,0,11.7,70.7,2.8,64.8,3.6,62,10.6,57.7,21.5,52,26,45,29.2,39.3,33.9,34.9,36.2,33.2,40,33.4,46.3,30.8,49.5,27],
[20,0,53.3,22,56.5,20],
[20,0,66.6,90,69,88.9,65.8,84.9],
[20,0,62,79.7,60.3,75.2,65,63.9,68,56.8,73.6,53.7,80.2,52],
[20,0,80.2,30.6,75.9,24.7,69.7,20],
[40,0,30.8,89.1,27.7,89.4,21.5,89.1,19,86.3,23,82.7,33.9,78.3,33,75.7,24.6,70.2,18.4,62,23.8,56.6,27.7,55.8,30.8,51.1,35.5,44,41.7,40],
[40,0,40,87.9,47.9,88.2,50.2,86,47.1,78.5,55,62,61,54.4,70.4,48.5,68.9,37.5,64.2,34.2,52.6,36.5],
[40,1,31.6,62,36.2,62.8,37.8,62,35.8,60.8],
[60,1,41,48.5,44,50.4,48.7,50.4,56.5,48.5,52.6,45.4,47.9,44.8,43.2,45.7],
[-20,0,-80,57,-79.4,50.7,-76,47.5],
[-20,0,-68.7,42.6,-67.2,40.3,-59.4,37.5,-50,35.8,-39.2,34.5,-25.2,36,-14.3,37.9,-6.5,40.8,-3.4,45,-1.6,49.7,-6.5,54,-12.8,57.3,-20.5,59.2,-22.9,63.9,-21.3,73.3,-23.6,75.9,-29,77.1],
[-20,0,-39.2,80.4,-50,83.7,-68,89.3,-75,87.5,-78.8,83.7,-80.2,80.4],
[-40,0,-67.2,80.6,-71.9,79.4,-75.7,73.8,-76.5,70,-71.9,63.9,-70.3,59.2,-68,54.4,-60.2,52.2,-51.6,52.6,-44.6,50.4,-40.7,46.9,-35.3,45.3,-25.2,48.3,-17.4,47.8,-12,48.1,-11.2,51.1,-16.6,51.7],
[-40,0,-26.8,54.4,-31.4,55.8,-40.7,58,-43,62,-39.2,70,-40.7,74.2,-47,78.5,-57.9,80.1,-67.2,80.6],
[-60,1,-68.7,73.3,-64,75.6,-55.5,72.8,-55.5,69.8,-64,67.7,-68.7,70]];
const labelsDec=[[-19.8,86.7,'20',-35],[-9,80.8,'0',0],[-34.5,78.7,'−20',35],[34.7,88.4,'40',30],[63,82.3,'20',-90],[14,73.1,'20',-80],[-22.9,52.1,'−40',60],[-72,45.5,'−20',60],[48,38.7,'40',50],[15.7,30.6,'0',40],[-72,25.9,'0',-10],[52.6,25,'20',80]];

const contoursByMonth=[contoursJan,contoursFeb,contoursMar,contoursApr,contoursMay,contoursJun,contoursJul,contoursAug,contoursSep,contoursOct,contoursNov,contoursDec];
const labelsByMonth=[labelsJan,labelsFeb,labelsMar,labelsApr,labelsMay,labelsJun,labelsJul,labelsAug,labelsSep,labelsOct,labelsNov,labelsDec];
const titleCenters=[283,815,1321.5,1824,275,806.5,1316.5,1833.5,297.5,825,1330.5,1849];

const SVGNS='http://www.w3.org/2000/svg';
const svg=document.getElementById('figure');
const colLeft=[107.5,628,1148.5,1669];
const rowTop=[77,814,1551];
const plotW=385,plotH=541;
function make(tag,attrs,parent){
  const el=document.createElementNS(SVGNS,tag);
  for(const k in attrs) el.setAttribute(k,attrs[k]);
  (parent||svg).appendChild(el);
  return el;
}
function xAxis(left,lat){return left+(lat+90)/180*plotW;}
function yAxis(top,alt){return top+(90-alt)/70*plotH;}
function colorFor(v){
  const i=Math.floor((v-.35)/.30*31);
  return levelColors[Math.max(0,Math.min(30,i))];
}
function bracket(grid,v){
  let i=0;
  while(i<grid.length-2&&v>grid[i+1]) i++;
  return [i,Math.max(0,Math.min(1,(v-grid[i])/(grid[i+1]-grid[i])))];
}
function giniAt(rows,lat,alt){
  const [c,tx]=bracket(latGrid,lat);
  const [r,ty]=bracket(altGrid,alt);
  const g=(a,b)=>rows[a][b]==null?(rows[a][b+1]!=null?rows[a][b+1]:rows[a][b-1]):rows[a][b];
  const lo=g(r,c)*(1-tx)+g(r,c+1)*tx;
  const hi=g(r+1,c)*(1-tx)+g(r+1,c+1)*tx;
  return lo*(1-ty)+hi*ty;
}
function charWidth(s){
  let w=0;
  for(const ch of String(s)) w+=(ch==='-'||ch==='−')?0.333:0.556;
  return w;
}

monthNames.forEach((month,m)=>{
  const col=m%4,row=Math.floor(m/4);
  const L=colLeft[col],T=rowTop[row];
  const panel=make('g',{});
  
  

  const title=make('text',{x:titleCenters[m],y:T-38,'text-anchor':'middle','font-size':54,'font-weight':'bold',fill:'#ff0000'},panel);
  title.textContent=month;
  
  

  const letter=make('text',{x:L-108.5,y:T+48,'font-size':52,'font-weight':'bold',fill:'#000',stroke:'#000','stroke-width':0.8,textLength:65,lengthAdjust:'spacingAndGlyphs'},panel);
  letter.textContent=panelLetters[m];
  
  

  const bg=make('rect',{x:L,y:T,width:plotW,height:plotH,fill:'#bebebe'},panel);
  
  

  /* heatmap from the gini grid */
  const heat=make('g',{'shape-rendering':'crispEdges'},panel);
  
  
  const rows=giniByMonth[m];
  const latA=dataLatMin[m],latB=dataLatMax[m];
  const x0=Math.round(xAxis(L,latA)),x1=Math.round(xAxis(L,latB));
  const y0=Math.round(yAxis(T,90)),y1=Math.round(yAxis(T,30));
  const stepX=2,stepY=3;
  const toLat=x=>(x-L)/plotW*180-90;
  const toAlt=y=>90-(y-T)/plotH*70;
  for(let y=y0;y<y1;y+=stepY){
    const h=Math.min(stepY,y1-y);
    const alt=toAlt(y+h/2);
    let runStart=x0,runColor=null;
    for(let x=x0;x<=x1;x+=stepX){
      const c=x>=x1?null:colorFor(giniAt(rows,toLat(x+stepX/2),alt));
      if(c!==runColor){
        if(runColor!==null){
          const cell=make('rect',{x:runStart,y:y,width:Math.min(x,x1)-runStart,height:h,fill:runColor},heat);
          
          
        }
        runStart=x;runColor=c;
      }
    }
    if(runColor!==null){
      const cell=make('rect',{x:runStart,y:y,width:x1-runStart,height:h,fill:runColor},heat);
      
      
    }
  }

  /* contours */
  contoursByMonth[m].forEach(c=>{
    const level=c[0],closed=c[1];
    let d='';
    for(let i=2;i<c.length;i+=2){
      d+=(i===2?'M':'L')+xAxis(L,c[i]).toFixed(1)+' '+yAxis(T,c[i+1]).toFixed(1);
    }
    if(closed) d+='Z';
    const p=make('path',{d:d,fill:'none',stroke:'#000','stroke-linejoin':'round','stroke-width':level===0?3.6:(level<0?1.7:1.5)},panel);
    if(level<0) p.setAttribute('stroke-dasharray','5 4');
    
    
  });

  /* grid */
  const grid=make('g',{stroke:'#000','stroke-width':1.5,'stroke-dasharray':'6 4',fill:'none'},panel);
  
  
  xGridLats.forEach(lat=>{
    const g=make('line',{x1:xAxis(L,lat),x2:xAxis(L,lat),y1:T,y2:T+plotH},grid);
    
    
  });
  yGridAlts.forEach(alt=>{
    const g=make('line',{x1:L,x2:L+plotW,y1:yAxis(T,alt),y2:yAxis(T,alt)},grid);
    
    
  });

  /* contour labels */
  labelsByMonth[m].forEach(l=>{
    const px=xAxis(L,l[0]),py=yAxis(T,l[1]);
    const t=make('text',{x:px,y:py+6,'text-anchor':'middle','font-size':17,fill:'#000',transform:'rotate('+l[3]+' '+px+' '+py+')'},panel);
    t.textContent=l[2];
    
    
  });

  /* ticks */
  let td='';
  for(let lat=-80;lat<=80;lat+=10){
    const x=xAxis(L,lat);
    td+='M'+x+' '+T+'v9M'+x+' '+(T+plotH)+'v-9';
  }
  for(let alt=20;alt<=90;alt+=2){
    const y=yAxis(T,alt);
    const len=alt%10===0?9:5.5;
    td+='M'+L+' '+y+'h'+len+'M'+(L+plotW)+' '+y+'h-'+len;
  }
  const ticks=make('path',{d:td,stroke:'#000','stroke-width':1.4,fill:'none'},panel);
  
  

  const frame=make('rect',{x:L,y:T,width:plotW,height:plotH,fill:'none',stroke:'#000','stroke-width':2},panel);
  
  

  /* tick labels */
  xTickLabels.forEach(v=>{
    const t=make('text',{x:xAxis(L,v),y:T+plotH+29,'text-anchor':'middle','font-size':23,fill:'#000',textLength:(charWidth(v)*23*1.12).toFixed(1),lengthAdjust:'spacingAndGlyphs'},panel);
    t.textContent=v;
    
    
  });
  yTickLabels.forEach(v=>{
    const nudge=v===90?12:(v===20?6:9);
    const t=make('text',{x:L-5,y:yAxis(T,v)+nudge,'text-anchor':'end','font-size':23,fill:'#000',textLength:(charWidth(v)*23*1.12).toFixed(1),lengthAdjust:'spacingAndGlyphs'},panel);
    t.textContent=v;
    
    
  });
  const xt=make('text',{x:L+195,y:T+plotH+61,'text-anchor':'middle','font-size':24,fill:'#000',textLength:155,lengthAdjust:'spacingAndGlyphs'},panel);
  xt.textContent='latitude [deg]';
  
  
  const yx=L-53.5,yy=T+267;
  const yt=make('text',{x:yx,y:yy,'text-anchor':'middle','font-size':24,fill:'#000',textLength:147,lengthAdjust:'spacingAndGlyphs',transform:'rotate(-90 '+yx+' '+yy+')'},panel);
  yt.textContent='altitude [km]';
  
  
});

/* colorbar */
const cbar=make('g',{'shape-rendering':'crispEdges'});


const cbX0=553.5,cbX1=1596,cbY=2211,cbH=56;
levelColors.forEach((c,i)=>{
  const w=(cbX1-cbX0)/levelColors.length;
  const s=make('rect',{x:cbX0+i*w,y:cbY,width:w+0.6,height:cbH,fill:c},cbar);
  
  
});
function cbAxis(v){return 556+(v-.35)/.30*(1561.6-556);}
colorbarTicks.forEach(v=>{
  const t=make('text',{x:cbAxis(parseFloat(v)),y:2323,'text-anchor':'middle','font-size':49,'font-weight':'bold',fill:'#000'});
  t.textContent=v;
  
  
});
const cbTitle=make('text',{x:1067,y:2391,'text-anchor':'middle','font-size':49,'font-weight':'bold',fill:'#000'});
cbTitle.textContent='Gini coefficient';


</script>
</body>
</html>
